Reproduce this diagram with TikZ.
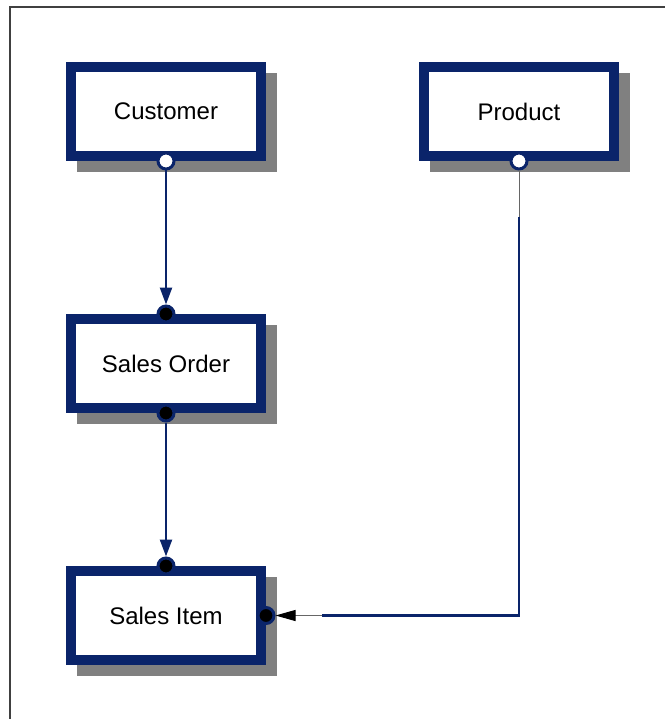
\documentclass[tikz,border=0pt]{standalone}
\usepackage{fontspec}
\setmainfont{Liberation Sans}
\usetikzlibrary{positioning,shadows,arrows.meta}
\definecolor{erNavy}{RGB}{10,36,106}
\definecolor{erShadow}{RGB}{128,128,128}
\definecolor{erFrame}{RGB}{64,64,64}
\tikzset{
  entity/.style={rectangle, draw=erNavy, line width=10pt, fill=white,
    minimum width=190pt, minimum height=89pt, inner sep=0pt,
    font=\fontsize{24}{28}\selectfont,
    drop shadow={shadow xshift=11pt, shadow yshift=-11pt, opacity=1,
      fill=erShadow, draw=erShadow}},
%  optEnd: zero-or-one end, manEnd: exactly-one end
  optEnd/.style={circle, draw=erNavy, line width=3pt, fill=white, minimum size=16pt, inner sep=0pt},
  manEnd/.style={circle, draw=erNavy, line width=3pt, fill=black, minimum size=16pt, inner sep=0pt},
  rel/.style={draw=erNavy, line width=2.4pt},
  relTip/.style={-{Triangle[length=17pt, width=12pt]}},
  thinLink/.style={draw=erFrame!80, line width=1pt}
}
\begin{document}
\begin{tikzpicture}[x=1pt, y=-1pt, node distance=153pt]
  \useasboundingbox (0,0) rectangle (665,719);
  \draw[erFrame, line width=1.5pt] (10,719) -- (10,7) -- (665,7);
  % entities
  \node [entity] (customer) at (166,111.5) {Customer};
  \node [entity, right=of customer] (product) {Product};
  \node [entity, below=of customer] (salesOrder) {Sales Order};
  \node [entity, below=of salesOrder] (salesItem) {Sales Item};
  % relationship ends
  \node [optEnd] (custEnd) at (customer.south) {};
  \node [optEnd] (prodEnd) at (product.south) {};
  \node [manEnd] (orderTop) at (salesOrder.north) {};
  \node [manEnd] (orderEnd) at (salesOrder.south) {};
  \node [manEnd] (itemTop) at (salesItem.north) {};
  \node [manEnd] (itemSide) at (salesItem.east) {};
  \coordinate (prodDrop) at ([yshift=-56pt]prodEnd.center);
  \coordinate (corner) at (prodEnd |- itemSide);
  \coordinate (itemLead) at ([xshift=56pt]itemSide.center);
  % relationships
  \draw [rel, relTip] (custEnd) -- (orderTop);
  \draw [rel, relTip] (orderEnd) -- (itemTop);
  \draw [thinLink] (prodEnd) -- (prodDrop);
  \draw [rel] (prodDrop) -- (corner) -- (itemLead);
  \draw [thinLink, -{Triangle[length=20pt, width=11pt, color=black]}] (itemLead) -- (itemSide);
\end{tikzpicture}
\end{document}
